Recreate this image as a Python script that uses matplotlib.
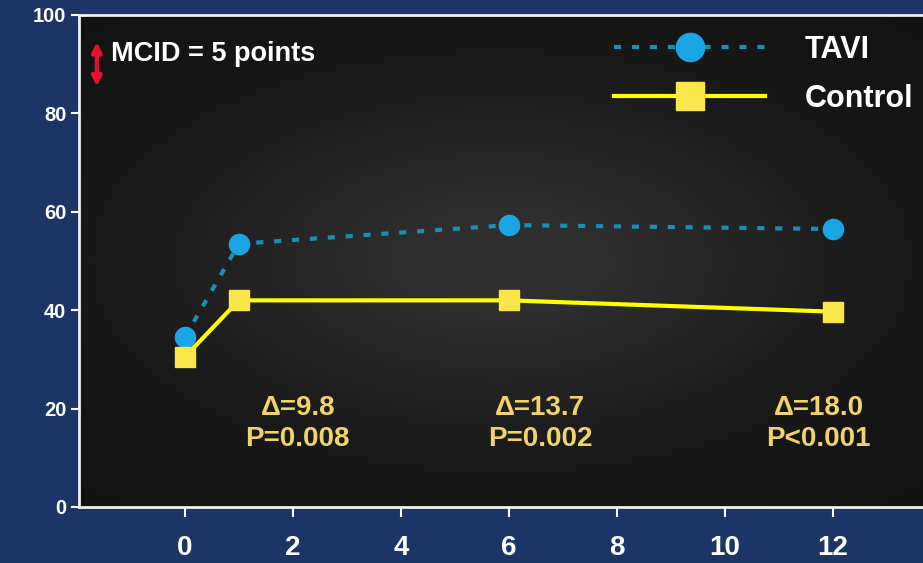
import numpy as np
import matplotlib.pyplot as plt

# months of follow-up and mean scores
months = [0, 1, 6, 12]
tavi_scores = [34.5, 53.5, 57.3, 56.5]
control_scores = [30.5, 42.0, 42.0, 39.7]

# between-group differences shown above the x axis
delta_x = [2.09, 6.58, 11.74]
delta_labels = ["\u0394=9.8\nP=0.008", "\u0394=13.7\nP=0.002", "\u0394=18.0\nP<0.001"]

x_ticks = [0, 2, 4, 6, 8, 10, 12]
y_ticks = [0, 20, 40, 60, 80, 100]

BG_BLUE = "#1b3566"
YELLOW = "#ffff00"
CYAN = "#1aa6e6"
TEXT_YELLOW = "#f2d36a"

plt.rcParams["font.family"] = ["Liberation Sans", "DejaVu Sans"]
plt.rcParams["font.weight"] = "bold"

fig = plt.figure(figsize=(9.23, 5.63), dpi=100, facecolor=BG_BLUE)
ax = fig.add_axes([79 / 923, 56 / 563, 1 - 79 / 923, (507 - 15) / 563])

# dark plot area, a little lighter in the middle
gx, gy = np.meshgrid(np.linspace(-1, 1, 300), np.linspace(-1, 1, 200))
glow = np.exp(-((gx / 0.8) ** 2 + (gy / 0.7) ** 2))
dark = np.array([0.07, 0.07, 0.07])
light = np.array([0.19, 0.19, 0.19])
img = dark + glow[..., None] * (light - dark)
ax.imshow(img, extent=[0, 1, 0, 1], transform=ax.transAxes, aspect="auto", zorder=0)

ax.plot(months, tavi_scores, linestyle=(0, (1.7, 2.6)), linewidth=3, color="#1a8fb4",
        marker="o", markersize=14.5, markerfacecolor=CYAN, markeredgecolor=CYAN,
        label="TAVI", zorder=3)
ax.plot(months, control_scores, linestyle="-", linewidth=3, color=YELLOW,
        marker="s", markersize=14, markerfacecolor="#f8e64a", markeredgecolor="#f8e64a",
        label="Control", zorder=4)

for xpos, txt in zip(delta_x, delta_labels):
    ax.text(xpos, 17.0, txt, color=TEXT_YELLOW, fontsize=20, fontweight="bold",
            ha="center", va="center", linespacing=1.25)

# minimal clinically important difference marker
ax.annotate("", xy=(-1.63, 85.5), xytext=(-1.63, 94.5),
            arrowprops=dict(arrowstyle="<|-|>", color="#e8102a", lw=3,
                            mutation_scale=14, shrinkA=0, shrinkB=0))
ax.text(-1.36, 92.0, "MCID = 5 points", color="white", fontsize=19.5,
        fontweight="bold", va="center", ha="left")

leg = ax.legend(loc="center left", bbox_to_anchor=((614 - 79) / 844, (507 - 74.5) / 492),
                frameon=False, handlelength=4.95, handletextpad=1.3, labelspacing=0.62,
                fontsize=22, borderaxespad=0, borderpad=0, markerscale=1.4)
for t in leg.get_texts():
    t.set_color("white")
    t.set_fontweight("bold")

ax.set_xlim(-1.96, 13.67)
ax.set_ylim(0, 100)
ax.set_xticks(x_ticks)
ax.set_yticks(y_ticks)
ax.set_xticklabels([str(v) for v in x_ticks], fontsize=20, fontweight="bold", color="white")
ax.set_yticklabels([str(v) for v in y_ticks], fontsize=14.5, fontweight="bold", color="white")
ax.tick_params(axis="x", direction="out", length=7, width=1.5, color="white", pad=13)
ax.tick_params(axis="y", direction="out", length=6, width=1.5, color="white", pad=3)

for side in ["left", "bottom", "top"]:
    ax.spines[side].set_color("#f0f0f0")
    ax.spines[side].set_linewidth(2)
ax.spines["right"].set_visible(False)

fig.savefig("out.png", dpi=100, facecolor=BG_BLUE)
